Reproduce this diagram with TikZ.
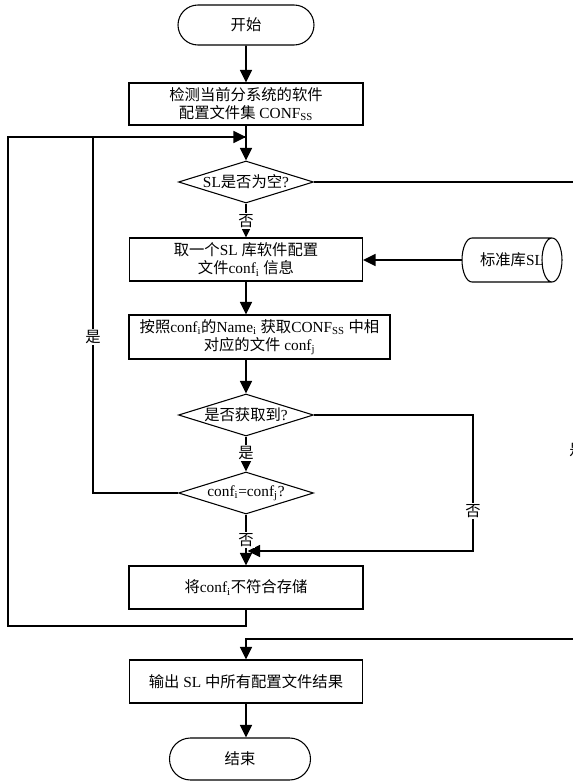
\documentclass[tikz,border=0pt]{standalone}
\usepackage{fontspec}
\setmainfont{Liberation Serif}
\newfontfamily\zhfont{Noto Sans CJK SC}
\newcommand\zz[1]{{\zhfont #1}}
\newcommand\sub[1]{\textsubscript{#1}}
\usetikzlibrary{arrows.meta,shapes.geometric,shapes.misc}

\begin{document}
\begin{tikzpicture}[x=0.75pt,y=-0.75pt,
  font=\fontsize{11.5}{13.3}\selectfont,
  conn/.style={line width=1.3pt},
  arr/.style={conn,-{Triangle[length=9.5pt,width=9pt]}},
  proc/.style 2 args={draw,line width=0.8pt,rectangle,minimum width=#1*0.75pt,
    minimum height=#2*0.75pt,inner sep=0pt,align=center},
  term/.style 2 args={draw,line width=0.8pt,rounded rectangle,minimum width=#1*0.75pt,
    minimum height=#2*0.75pt,inner sep=0pt},
  decision/.style={draw,line width=0.8pt,diamond,minimum width=135*0.75pt,
    minimum height=42*0.75pt,inner sep=0pt},
  tag/.style={fill=white,inner sep=0.8pt}
]
\useasboundingbox (0,0) rectangle (573,781);
\clip (0,0) rectangle (573,781);

% flow nodes
\node[term={136}{40}] (start) at (246,25) {\zz{开始}};
\node[proc={234}{42}] (b1) at (246,104)
  {\zz{检测当前分系统的软件}\\\zz{配置文件集} CONF\sub{SS}};
\node[decision] (d1) at (246,182) {\makebox[0pt]{SL\zz{是否为空}?}};
\node[proc={233}{43}] (b2) at (246,259.5)
  {\zz{取一个}SL \zz{库软件配置}\\\zz{文件}conf\sub{i} \zz{信息}};
\node[proc={261}{44}] (b3) at (259.5,337)
  {\zz{按照}conf\sub{i}\zz{的}Name\sub{i} \zz{获取}CONF\sub{SS} \zz{中相}\\\zz{对应的文件} conf\sub{j}};
\node[decision] (d2) at (246,415) {\makebox[0pt]{\zz{是否获取到}?}};
\node[decision] (d3) at (246,493) {\makebox[0pt]{conf\sub{i}=conf\sub{j}?}};
\node[proc={234}{43}] (b4) at (246,587.5) {\zz{将}conf\sub{i}\zz{不符合存储}};
\node[proc={233}{43}] (b5) at (246,681.5) {\zz{输出} SL \zz{中所有配置文件结果}};
\node[term={141}{42}] (end) at (240,759) {\zz{结束}};

% standard library store (horizontal cylinder)
\node[minimum width=100*0.75pt,minimum height=44*0.75pt,inner sep=0pt] (lib) at (512,260)
  {\zz{标准库}SL};
\draw[line width=0.8pt] (472,238) -- (552,238) (472,282) -- (552,282)
  (552,260) ellipse [x radius=10,y radius=22]
  (472,282) arc [start angle=90,end angle=270,x radius=10,y radius=22];

% junction and corner points
\coordinate (j1) at (246,137);
\coordinate (il) at (93,137);
\coordinate (olb) at (8,626);
\coordinate (j2) at (247.5,551);
\coordinate (r2) at (473,551);
\coordinate (rt) at (577,182);
\coordinate (rb) at (577,639);

% connectors
\draw[arr] (start) -- (b1);
\draw[arr] (b1) -- (d1);
\draw[arr] (d1) -- (b2);
\draw[arr] (lib.west) -- (lib.west -| b2.east);
\draw[arr] (b2.south) -- (b2.south |- b3.north);
\draw[arr] (b3.south -| d2.north) -- (d2.north);
\draw[arr] (d2) -- (d3);
\draw[arr] (d3) -- (b4);
\draw[arr] (d2.east) -| (r2) -- (j2);
\draw[arr] (d3.west) -| (il) -- (j1);
\draw[conn] (b4.south) |- (olb) |- (j1);
\draw[arr] (d1.east) -- (rt) -- (rb) -| (b5.north);
\draw[arr] (b5.south) -- (b5.south |- end.north);

% branch labels
\node[tag] (lno1) at (246,221) {\zz{否}};
\node[tag] (lyes2) at (246,453) {\zz{是}};
\node[tag] (lno3) at (246,540) {\zz{否}};
\node[tag] (lno2) at (473,511) {\zz{否}};
\node[tag] (lyes1) at (93,337) {\zz{是}};
\node[tag] (lyes3) at (577,450) {\zz{是}};
\end{tikzpicture}
\end{document}
